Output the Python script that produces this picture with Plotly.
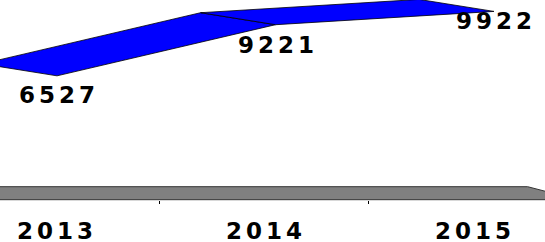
import plotly.graph_objects as go

# ---- data ----
years = ["2013", "2014", "2015"]
values = [6527, 9221, 9922]

# ---- style / geometry ----
W, H = 545, 242
BLUE = "#0000FF"
FLOOR = "#808080"
EDGE = "#000000"
FONT = "DejaVu Sans"
FSIZE = 23
SPACING = 4                        # px letter spacing to mimic stretched type

x_range = [-0.2609, 2.2334]        # ribbon axis (category index units)
y_range = [-2229, 10523]           # value axis
x2_range = [-0.263, 2.344]         # category-label / floor axis
depth_dx = -0.343                  # ribbon depth, x units
depth_dy = 632                     # ribbon depth, value units
floor_dx = -0.239                  # floor depth, x2 units
floor_dy = 685                     # floor depth, value units
label_dy = [-19.5, -20, -10]       # data label centre offsets (px)


def styled(t):
    return f'<b><span style="letter-spacing:{SPACING}px;font-weight:bold">{t}</span></b>'


fig = go.Figure()

# floor
n = len(years)
fx = [-0.5, n - 0.5, n - 0.5 + floor_dx, -0.5 + floor_dx, -0.5]
fy = [0, 0, floor_dy, floor_dy, 0]
fig.add_trace(go.Scatter(x=fx, y=fy, xaxis="x2", yaxis="y", mode="lines",
                         fill="toself", fillcolor=FLOOR,
                         line=dict(color="#333333", width=1),
                         hoverinfo="skip"))

# ribbon segments
for i in range(n - 1):
    v0, v1 = values[i], values[i + 1]
    px = [i, i + 1, i + 1 + depth_dx, i + depth_dx, i]
    py = [v0, v1, v1 + depth_dy, v0 + depth_dy, v0]
    fig.add_trace(go.Scatter(x=px, y=py, xaxis="x", yaxis="y", mode="lines",
                             fill="toself", fillcolor=BLUE,
                             line=dict(color=EDGE, width=0.8),
                             hoverinfo="skip"))

ann = []
for i, (yr, v) in enumerate(zip(years, values)):
    ann.append(dict(x=i, y=v, xref="x", yref="y", text=styled(str(v)),
                    showarrow=False, xanchor="center", yanchor="middle",
                    yshift=label_dy[i], xshift=SPACING / 2,
                    font=dict(family=FONT, size=FSIZE, color="black")))
    ann.append(dict(x=i, y=(H - 230.5) / H, xref="x2", yref="paper",
                    text=styled(yr), showarrow=False,
                    xanchor="center", yanchor="middle", xshift=SPACING / 2,
                    font=dict(family=FONT, size=FSIZE, color="black")))

fig.update_layout(
    width=W, height=H,
    margin=dict(l=0, r=0, t=0, b=0, autoexpand=False),
    paper_bgcolor="white", plot_bgcolor="white",
    showlegend=False,
    xaxis=dict(range=x_range, visible=False, fixedrange=True, automargin=False),
    yaxis=dict(range=y_range, visible=False, fixedrange=True, automargin=False),
    xaxis2=dict(range=x2_range, overlaying="x", anchor="free",
                position=(H - 200) / H, side="bottom", automargin=False,
                showgrid=False, zeroline=False, showline=False,
                tickmode="array", tickvals=[i + 0.5 for i in range(n - 1)],
                ticks="outside", ticklen=3, tickwidth=1, tickcolor="black",
                showticklabels=False, fixedrange=True),
    annotations=ann,
)

fig.write_html("out.html", config={"displayModeBar": False},
               post_script="document.body.style.margin='0';document.body.style.overflow='hidden';")
